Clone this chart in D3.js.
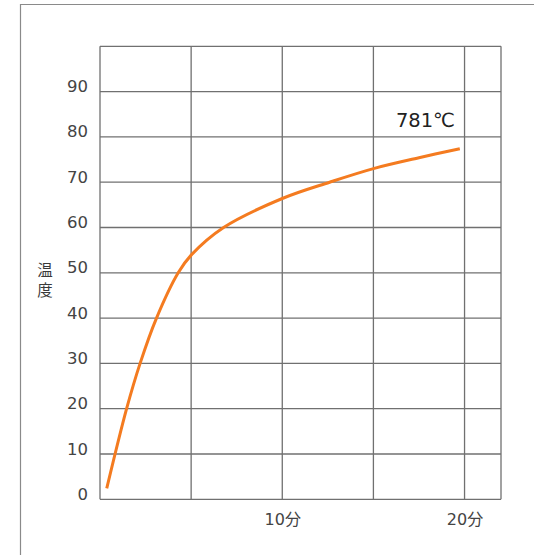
<!DOCTYPE html>
<html><head><meta charset="utf-8">
<script src="https://cdn.jsdelivr.net/npm/d3@7"></script>
<style>
body{margin:0;background:#fff;}
svg{display:block;}
text{font-family:"DejaVu Sans","Noto Sans CJK JP",sans-serif;}
.cjk{font-family:"Noto Sans CJK JP",sans-serif;}
</style></head>
<body>
<script>
const minutes = [0.37, 1.46, 2.2, 3.1, 4.29, 5, 6.78, 10, 12.6, 15, 17.5, 19.74];
const temps   = [2.4, 20, 30, 40, 50, 53.9, 60, 66.4, 70, 73, 75.4, 77.4];
const yTicks = [0, 10, 20, 30, 40, 50, 60, 70, 80, 90];
const xGrid = [0, 5, 10, 15, 20, 22];
const xTickLabels = [[10, "10分"], [20, "20分"]];
const yTitle = "温度";
const annotation = "781℃";

const W = 534, H = 555;
const svg = d3.select("body").append("svg").attr("width", W).attr("height", H);

const x = d3.scaleLinear().domain([0, 22]).range([100, 501]);
const y = d3.scaleLinear().domain([0, 100]).range([499.3, 46.3]);

// outer frame
svg.append("path").attr("d", `M20.5,${H} V4.5 H${W}`)
  .attr("fill", "none").attr("stroke", "#8a8a8a").attr("stroke-width", 1.2);

const gridColor = "#707070";
const hLevels = yTicks.concat([100]);
svg.append("g").selectAll("line").data(hLevels).join("line")
  .attr("x1", x(0)).attr("x2", x(22))
  .attr("y1", d => y(d)).attr("y2", d => y(d))
  .attr("stroke", gridColor).attr("stroke-width", 1.3);
svg.append("g").selectAll("line").data(xGrid).join("line")
  .attr("x1", d => x(d)).attr("x2", d => x(d))
  .attr("y1", y(0)).attr("y2", y(100))
  .attr("stroke", gridColor).attr("stroke-width", 1.3);

// y tick labels
svg.append("g").selectAll("text").data(yTicks).join("text")
  .attr("x", 88).attr("y", d => y(d) + 0.5)
  .attr("text-anchor", "end").attr("font-size", 16.5)
  .attr("fill", "#444").text(d => d);

// x tick labels
svg.append("g").selectAll("text").data(xTickLabels).join("text")
  .attr("x", d => x(d[0]) + 0.5).attr("y", 525)
  .attr("text-anchor", "middle").attr("font-size", 16)
  .attr("fill", "#444").text(d => d[1]);

// y title (vertical)
svg.append("text").attr("class", "cjk")
  .attr("x", 45).attr("y", 262)
  .style("writing-mode", "vertical-rl")
  .style("letter-spacing", "4.5px")
  .attr("font-size", 15.5)
  .attr("fill", "#3a3a3a").text(yTitle);

// curve
const pts = minutes.map((m, i) => [m, temps[i]]);
svg.append("path").datum(pts)
  .attr("d", d3.line().x(d => x(d[0])).y(d => y(d[1])).curve(d3.curveCatmullRom.alpha(0.5)))
  .attr("fill", "none").attr("stroke", "#f47b20").attr("stroke-width", 3);

// annotation
svg.append("text").attr("x", 455).attr("y", 127)
  .attr("text-anchor", "end").attr("font-size", 19.5)
  .attr("fill", "#222").text(annotation);
</script>
</body></html>
